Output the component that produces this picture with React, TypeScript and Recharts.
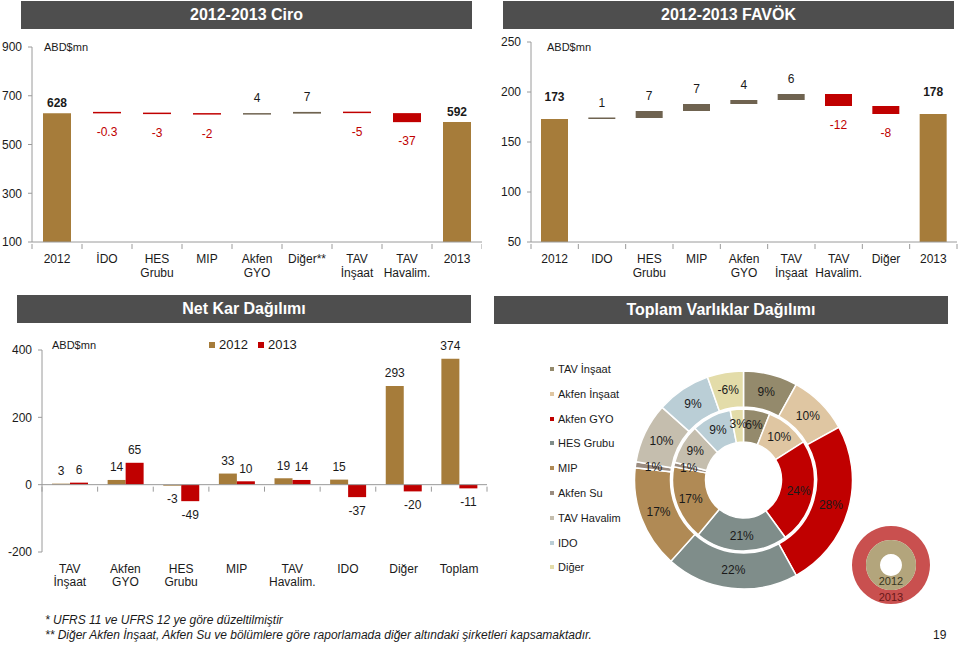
import React from 'react';
import { BarChart, Bar, XAxis, YAxis, Cell, LabelList, ReferenceLine, Legend, PieChart, Pie } from 'recharts';

const FONT = '"Liberation Sans", Arial, sans-serif';
const GOLD = '#A67C3A';
const RED = '#C00000';
const OLIVE = '#6F6350';
const AXIS = '#9a9a9a';
const TEXT = '#1a1a1a';
const HEADER = '#4E4E4E';

// ---- 2012-2013 Ciro ----
const ciroCategories = ['2012', 'İDO', 'HES\nGrubu', 'MIP', 'Akfen\nGYO', 'Diğer**', 'TAV\nİnşaat', 'TAV\nHavalim.', '2013'];
const ciroStart = 628;
const ciroDeltas = [-0.3, -3, -2, 4, 7, -5, -37];
const ciroEnd = 592;
const ciroTicks = [100, 300, 500, 700, 900];

// ---- 2012-2013 FAVÖK ----
const favokCategories = ['2012', 'IDO', 'HES\nGrubu', 'MIP', 'Akfen\nGYO', 'TAV\nİnşaat', 'TAV\nHavalim.', 'Diğer', '2013'];
const favokStart = 173;
const favokDeltas = [1, 7, 7, 4, 6, -12, -8];
const favokEnd = 178;
const favokTicks = [50, 100, 150, 200, 250];

// ---- Net Kar Dağılımı ----
const netKarCategories = ['TAV\nİnşaat', 'Akfen\nGYO', 'HES\nGrubu', 'MIP', 'TAV\nHavalim.', 'IDO', 'Diğer', 'Toplam'];
const netKar2012 = [3, 14, -3, 33, 19, 15, 293, 374];
const netKar2013 = [6, 65, -49, 10, 14, -37, -20, -11];
const netKarTicks = [-200, 0, 200, 400];

// ---- Toplam Varlıklar Dağılımı ----
const assetNames = ['TAV İnşaat', 'Akfen İnşaat', 'Akfen GYO', 'HES Grubu', 'MIP', 'Akfen Su', 'TAV Havalim', 'IDO', 'Diğer'];
const assets2012 = [6, 10, 24, 21, 17, 1, 9, 9, 3];
const assets2013 = [9, 10, 28, 22, 17, 1, 10, 9, -6];
const assetColors = ['#948A6C', '#DFC6A2', '#C00000', '#7F8D8A', '#B08A55', '#9A8C80', '#C5BEAE', '#BACED6', '#E3DCA9'];
const ringYears = ['2012', '2013'];
const ringColors = ['#B3A57C', '#C9504F'];
const ringTextColors = ['#3a3520', '#6a1818'];

type Row = { name: string; range: number | [number, number]; value: number; kind: 'total' | 'up' | 'down' };

function buildWaterfall(cats: string[], start: number, deltas: number[], end: number): Row[] {
  const rows: Row[] = [{ name: cats[0], range: start, value: start, kind: 'total' }];
  let run = start;
  deltas.forEach((d, i) => {
    const next = run + d;
    rows.push({ name: cats[i + 1], range: [Math.min(run, next), Math.max(run, next)], value: d, kind: d >= 0 ? 'up' : 'down' });
    run = next;
  });
  rows.push({ name: cats[cats.length - 1], range: end, value: end, kind: 'total' });
  return rows;
}

const ciroRows = buildWaterfall(ciroCategories, ciroStart, ciroDeltas, ciroEnd);
const favokRows = buildWaterfall(favokCategories, favokStart, favokDeltas, favokEnd);
const netKarRows = netKarCategories.map((name, i) => ({ name, v2012: netKar2012[i], v2013: netKar2013[i] }));
const inner = assetNames.map((name, i) => ({ name, size: Math.abs(assets2012[i]), label: `${assets2012[i]}%` }));
const outer = assetNames.map((name, i) => ({ name, size: Math.abs(assets2013[i]), label: `${assets2013[i]}%` }));

const CatTick = (props: any) => {
  const { x, y, payload, index, half, count, lineGap, firstDy, zeroUp } = props;
  const lines = String(payload.value).split('\n');
  const tickY = y - (zeroUp || 0);
  return (
    <g>
      <line x1={x - half} x2={x - half} y1={tickY} y2={tickY + 5} stroke={AXIS} />
      {index === count - 1 && <line x1={x + half} x2={x + half} y1={tickY} y2={tickY + 5} stroke={AXIS} />}
      <text x={x} y={y} textAnchor="middle" fill={TEXT} fontSize={12} fontFamily={FONT}>
        {lines.map((l, i) => (
          <tspan key={i} x={x} dy={i === 0 ? firstDy : lineGap}>{l}</tspan>
        ))}
      </text>
    </g>
  );
};

const WfLabel = (props: any) => {
  const vb = props.viewBox && props.viewBox.width !== undefined ? props.viewBox : props;
  const { x, y, width, height } = vb;
  const row: Row = props.rows[props.index];
  if (!row) return null;
  const top = Math.min(y, y + height);
  const bottom = Math.max(y, y + height);
  const cx = x + width / 2;
  if (row.kind === 'down') {
    return <text x={cx} y={bottom + 19} textAnchor="middle" dominantBaseline="central" fill={RED} fontSize={12} fontFamily={FONT}>{String(row.value)}</text>;
  }
  const off = row.kind === 'total' ? props.totalOffset : 15;
  return (
    <text x={cx} y={top - off} textAnchor="middle" dominantBaseline="central" fill={TEXT} fontSize={12} fontFamily={FONT} fontWeight={row.kind === 'total' ? 'bold' : 'normal'}>
      {String(row.value)}
    </text>
  );
};

const NkLabel = (props: any) => {
  const vb = props.viewBox && props.viewBox.width !== undefined ? props.viewBox : props;
  const { x, y, width, height } = vb;
  const v = Number(props.value);
  const top = Math.min(y, y + height);
  const bottom = Math.max(y, y + height);
  const cx = x + width / 2;
  return (
    <text x={cx} y={v >= 0 ? top - 12.7 : bottom + 13.7} textAnchor="middle" dominantBaseline="central" fill={TEXT} fontSize={12} fontFamily={FONT}>
      {String(v)}
    </text>
  );
};

function Waterfall(p: { rows: Row[]; ticks: number[]; left: number; width: number; yw: number; mt: number; mr: number; barSize: number; totalOffset: number }) {
  const domain = [p.ticks[0], p.ticks[p.ticks.length - 1]];
  const plotW = p.width - p.yw - p.mr;
  const half = plotW / p.rows.length / 2;
  return (
    <div style={{ position: 'absolute', left: p.left, top: 0 }}>
      <BarChart width={p.width} height={290} data={p.rows} margin={{ top: p.mt, right: p.mr, bottom: 0, left: 0 }}>
        <XAxis dataKey="name" interval={0} tickLine={false} tickSize={0} axisLine={{ stroke: AXIS }} height={48}
          tick={<CatTick half={half} count={p.rows.length} firstDy={18.8} lineGap={14} />} />
        <YAxis domain={domain} ticks={p.ticks} allowDataOverflow width={p.yw} axisLine={{ stroke: AXIS }} tickLine={{ stroke: AXIS }} tickSize={4} tickMargin={6}
          tick={{ fill: TEXT, fontSize: 12, fontFamily: FONT }} />
        <Bar dataKey="range" barSize={p.barSize} minPointSize={1.5} isAnimationActive={false}>
          {p.rows.map((r, i) => (
            <Cell key={i} fill={r.kind === 'total' ? GOLD : r.kind === 'up' ? OLIVE : RED} />
          ))}
          <LabelList dataKey="value" content={<WfLabel rows={p.rows} totalOffset={p.totalOffset} />} />
        </Bar>
      </BarChart>
    </div>
  );
}

const Header = ({ left, top, width, text }: { left: number; top: number; width: number; text: string }) => (
  <div style={{ position: 'absolute', left, top, width, height: 28, background: HEADER, color: '#fff', fontWeight: 'bold', fontSize: 16, lineHeight: '28px', textAlign: 'center', fontFamily: FONT }}>
    {text}
  </div>
);

const Unit = ({ left, top }: { left: number; top: number }) => (
  <div style={{ position: 'absolute', left, top, fontSize: 11, lineHeight: '13px', color: TEXT, fontFamily: FONT }}>ABD$mn</div>
);

const RAD = Math.PI / 180;
const pieLabel = (ratio: number) => (props: any) => {
  const { cx, cy, midAngle, innerRadius, outerRadius, payload, index } = props;
  const r = innerRadius + (outerRadius - innerRadius) * ratio;
  const x = cx + r * Math.cos(-midAngle * RAD);
  const y = cy + r * Math.sin(-midAngle * RAD);
  const txt = (payload && payload.label) || props.label;
  return (
    <text key={index} x={x} y={y} textAnchor="middle" dominantBaseline="central" fill={TEXT} fontSize={12} fontFamily={FONT}>
      {txt}
    </text>
  );
};

const ringLabel = (props: any) => {
  const { cx, cy, index, payload } = props;
  const i = payload && payload.year === '2013' ? 1 : 0;
  return (
    <text key={index} x={cx} y={cy + 16 + i * 16} textAnchor="middle" dominantBaseline="central" fill={ringTextColors[i]} fontSize={11} fontFamily={FONT}>
      {payload.year}
    </text>
  );
};

export default function App() {
  const nkZeroUp = ((0 - netKarTicks[0]) / (netKarTicks[netKarTicks.length - 1] - netKarTicks[0])) * (310 - 60 - 48);
  const nkHalf = (490 - 42 - 3) / netKarCategories.length / 2;
  return (
    <div style={{ position: 'absolute', left: 0, top: 0, width: 960, height: 645, background: '#fff', overflow: 'hidden', fontFamily: FONT }}>
      <Header left={21} top={1} width={451} text="2012-2013 Ciro" />
      <Header left={503} top={1} width={451} text="2012-2013 FAVÖK" />
      <Header left={17} top={295} width={454} text="Net Kar Dağılımı" />
      <Header left={494} top={296} width={454} text="Toplam Varlıklar Dağılımı" />

      <Waterfall rows={ciroRows} ticks={ciroTicks} left={0} width={482} yw={32} mt={47} mr={0} barSize={28} totalOffset={10.5} />
      <Waterfall rows={favokRows} ticks={favokTicks} left={480} width={480} yw={51} mt={42} mr={3} barSize={27} totalOffset={22} />
      <Unit left={44} top={41} />
      <Unit left={547} top={41} />

      <div style={{ position: 'absolute', left: 0, top: 290 }}>
        <BarChart width={490} height={310} data={netKarRows} margin={{ top: 60, right: 3, bottom: 0, left: 0 }} barGap={0}>
          <XAxis dataKey="name" interval={0} tickLine={false} tickSize={0} axisLine={false} height={48}
            tick={<CatTick half={nkHalf} count={netKarCategories.length} firstDy={18.6} lineGap={13.5} zeroUp={nkZeroUp} />} />
          <YAxis domain={[netKarTicks[0], netKarTicks[netKarTicks.length - 1]]} ticks={netKarTicks} allowDataOverflow width={42}
            axisLine={{ stroke: AXIS }} tickLine={{ stroke: AXIS }} tickSize={4} tickMargin={6} tick={{ fill: TEXT, fontSize: 12, fontFamily: FONT }} />
          <ReferenceLine y={0} stroke={AXIS} />
          <Legend layout="horizontal" verticalAlign="middle" align="center" iconType="square" iconSize={6}
            wrapperStyle={{ position: 'absolute', top: 45, left: 209, width: 'auto', height: 'auto' }}
            formatter={(v: any) => <span style={{ color: TEXT, fontSize: 13, fontFamily: FONT }}>{v}</span>} />
          <Bar dataKey="v2012" name="2012" fill={GOLD} barSize={18} isAnimationActive={false}>
            <LabelList dataKey="v2012" content={<NkLabel />} />
          </Bar>
          <Bar dataKey="v2013" name="2013" fill={RED} barSize={18} isAnimationActive={false}>
            <LabelList dataKey="v2013" content={<NkLabel />} />
          </Bar>
        </BarChart>
      </div>
      <Unit left={52} top={339} />

      {assetNames.map((n, i) => (
        <div key={n} style={{ position: 'absolute', left: 550, top: 362 + i * 24.8, height: 14, display: 'flex', alignItems: 'center', fontSize: 11, color: TEXT, fontFamily: FONT }}>
          <span style={{ display: 'inline-block', width: 4, height: 4, background: assetColors[i], marginRight: 4 }} />
          {n}
        </div>
      ))}

      <div style={{ position: 'absolute', left: 520, top: 340 }}>
        <PieChart width={440} height={270} margin={{ top: 0, right: 0, bottom: 0, left: 0 }}>
          <Pie data={inner} dataKey="size" nameKey="name" cx={223.5} cy={140} innerRadius={38} outerRadius={71} startAngle={90} endAngle={-270}
            stroke="#fff" strokeWidth={1.5} labelLine={false} label={pieLabel(0.55)} isAnimationActive={false}>
            {inner.map((d, i) => <Cell key={i} fill={assetColors[i]} />)}
          </Pie>
          <Pie data={outer} dataKey="size" nameKey="name" cx={223.5} cy={140} innerRadius={73} outerRadius={109} startAngle={90} endAngle={-270}
            stroke="#fff" strokeWidth={1.5} labelLine={false} label={pieLabel(0.5)} isAnimationActive={false}>
            {outer.map((d, i) => <Cell key={i} fill={assetColors[i]} />)}
          </Pie>
          <Pie data={[{ year: ringYears[1], v: 1 }]} dataKey="v" nameKey="year" cx={371} cy={225} innerRadius={25} outerRadius={39} startAngle={90} endAngle={-270}
            stroke="none" fill={ringColors[1]} labelLine={false} label={ringLabel} isAnimationActive={false} />
          <Pie data={[{ year: ringYears[0], v: 1 }]} dataKey="v" nameKey="year" cx={371} cy={225} innerRadius={11} outerRadius={25} startAngle={90} endAngle={-270}
            stroke="none" fill={ringColors[0]} labelLine={false} label={ringLabel} isAnimationActive={false} />
        </PieChart>
      </div>

      <div style={{ position: 'absolute', left: 45, top: 613, fontSize: 12, fontStyle: 'italic', color: TEXT, fontFamily: FONT, lineHeight: '15px', whiteSpace: 'nowrap' }}>
        <div>* UFRS 11 ve UFRS 12 ye göre düzeltilmiştir</div>
        <div>** Diğer Akfen İnşaat, Akfen Su ve bölümlere göre raporlamada diğer altındaki şirketleri kapsamaktadır.</div>
      </div>
      <div style={{ position: 'absolute', left: 933, top: 628, fontSize: 12, color: TEXT, fontFamily: FONT, lineHeight: '15px' }}>19</div>
    </div>
  );
}
